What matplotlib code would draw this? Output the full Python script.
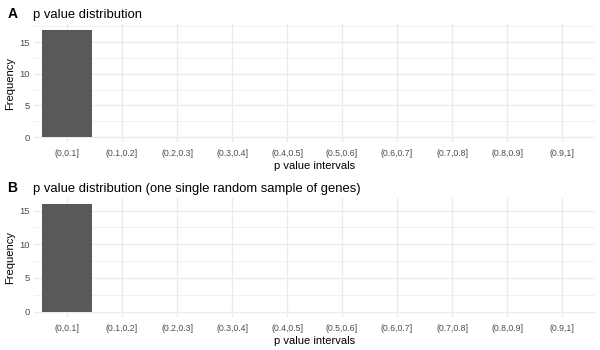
import numpy as np
import matplotlib.pyplot as plt

plt.rcParams['font.family'] = ['Liberation Sans', 'DejaVu Sans']

# interval labels and counts
intervals = ['(0,0.1]', '(0.1,0.2]', '(0.2,0.3]', '(0.3,0.4]', '(0.4,0.5]',
             '(0.5,0.6]', '(0.6,0.7]', '(0.7,0.8]', '(0.8,0.9]', '(0.9,1]']
freq_all = [17, 0, 0, 0, 0, 0, 0, 0, 0, 0]
freq_sample = [16, 0, 0, 0, 0, 0, 0, 0, 0, 0]

titles = ['p value distribution',
          'p value distribution (one single random sample of genes)']
tags = ['A', 'B']

fig = plt.figure(figsize=(6, 3.5), dpi=100)
rects = [[0.0567, 0.593, 0.935, 0.338], [0.0567, 0.094, 0.935, 0.339]]

grid_col = '#EBEBEB'
for rect, vals, title, tag in zip(rects, [freq_all, freq_sample], titles, tags):
    ax = fig.add_axes(rect)
    x = np.arange(len(intervals))
    ymax = max(vals)
    # minor / major grid like theme_minimal
    for v in np.arange(2.5, ymax + 2.5, 5):
        if v <= ymax * 1.05:
            ax.axhline(v, color=grid_col, lw=0.5, zorder=0)
    for v in np.arange(0, ymax + 1, 5):
        ax.axhline(v, color=grid_col, lw=1.0, zorder=0)
    for xi in x:
        ax.axvline(xi, color=grid_col, lw=1.0, zorder=0)
    ax.bar(x, vals, width=0.9, color='#595959', zorder=2)
    ax.set_xlim(-0.6, len(intervals) - 0.4)
    ax.set_ylim(-0.05 * ymax, ymax * 1.05)
    ax.set_xticks(x)
    ax.set_xticklabels(intervals, fontsize=6.3, color='#4D4D4D')
    ax.set_yticks(np.arange(0, ymax + 1, 5))
    ax.tick_params(axis='y', labelsize=6.8, labelcolor='#4D4D4D', pad=3)
    ax.tick_params(axis='x', pad=5)
    ax.tick_params(length=0)
    for s in ax.spines.values():
        s.set_visible(False)
    ax.set_xlabel('p value intervals', fontsize=8, labelpad=2)
    ax.set_ylabel('Frequency', fontsize=8, labelpad=3)
    pos = ax.get_position()
    fig.text(0.055, pos.y1 + 0.010, title, fontsize=9.4, va='bottom', ha='left')
    fig.text(0.012, pos.y1 + 0.010, tag, fontsize=10, fontweight='bold',
             va='bottom', ha='left')

fig.savefig('out.png', dpi=100)
